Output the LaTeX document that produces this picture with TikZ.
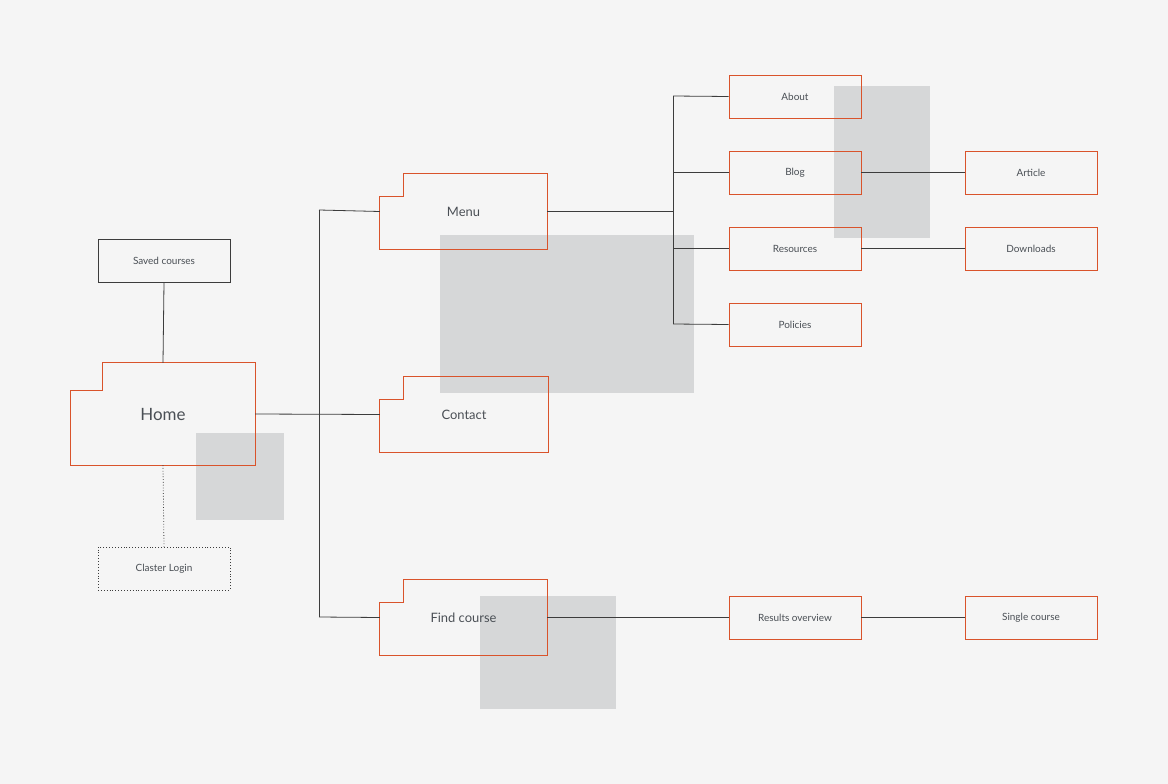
\documentclass[tikz,border=0pt]{standalone}
\usepackage{fontspec}
\setmainfont{Lato}
\begin{document}
\begin{tikzpicture}[x=1bp,y=-1bp,
  line/.style={draw=linec,line width=0.8bp},
  box/.style={rectangle,draw=orng,line width=0.9bp,minimum width=132bp,minimum height=43bp,inner sep=0pt,font=\fontsize{10}{12}\selectfont,text=txt},
  fold/.style={rectangle,inner sep=0pt,text=txt},
  grey/.style={fill=greyc}]
\definecolor{bg}{HTML}{F5F5F5}
\definecolor{greyc}{HTML}{D6D7D8}
\definecolor{orng}{HTML}{D9532B}
\definecolor{linec}{HTML}{3C3C3C}
\definecolor{txt}{HTML}{4A4F55}
\fill[bg] (0,0) rectangle (1168,784);
\useasboundingbox (0,0) rectangle (1168,784);
% grey overlays
\fill[grey] (440,235) rectangle (694,393);
\fill[grey] (834,86) rectangle (930,238);
\fill[grey] (196,433) rectangle (284,520);
\fill[grey] (480,596) rectangle (616,709);
% folder nodes
\node[fold,minimum width=184bp,minimum height=102bp,font=\fontsize{17}{20}\selectfont] (home) at (163,414) {Home};
\node[fold,minimum width=167bp,minimum height=75bp,font=\fontsize{13}{16}\selectfont] (menu) at (463.5,211.5) {Menu};
\node[fold,minimum width=168bp,minimum height=75bp,font=\fontsize{13}{16}\selectfont] (contact) at (464,414.5) {Contact};
\node[fold,minimum width=167bp,minimum height=75bp,font=\fontsize{13}{16}\selectfont] (find) at (463.5,617.5) {Find course};
\foreach \n/\nx/\ny in {home/102/390, menu/403/196, contact/403/399, find/403/602}{
  \draw[draw=orng,line width=0.9bp] (\n.south west) |- (\nx,\ny) |- (\n.north east) |- (\n.south west) -- cycle;
}
% small boxes
\node[box] (about) at (795,96.5) {About};
\node[box] (blog) at (795,172.5) {Blog};
\node[box] (res) at (795,248.5) {Resources};
\node[box] (pol) at (795,324.5) {Policies};
\node[box] (art) at (1031,172.5) {Article};
\node[box] (down) at (1031,248.5) {Downloads};
\node[box] (resov) at (795,617.5) {Results overview};
\node[box] (single) at (1031,617.5) {Single course};
\node[box,draw=linec] (saved) at (164,260.5) {Saved courses};
\node[box,draw=linec,dotted,line width=0.8bp] (login) at (164,568.5) {Claster Login};
% connectors
\coordinate (t1) at (319,210);
\coordinate (t2) at (319,617);
\coordinate (b1) at (673,96);
\coordinate (b2) at (673,324);
\draw[line] (home.east) -- (contact.west);
\draw[line] (t1) -- (t2);
\draw[line] (t1) -- (menu.west);
\draw[line] (t2) -- (find.west);
\draw[line] (menu.east) -- (menu.east -| b1);
\draw[line] (b1) -- (b2);
\draw[line] (b1) -- (about.west);
\draw[line] (blog.west -| b1) -- (blog.west);
\draw[line] (res.west -| b1) -- (res.west);
\draw[line] (b2) -- (pol.west);
\draw[line] (blog.east) -- (art.west);
\draw[line] (res.east) -- (down.west);
\draw[line] (find.east) -- (resov.west);
\draw[line] (resov.east) -- (single.west);
\draw[line] (saved.south) -- (home.north);
\draw[line,dotted] (home.south) -- (login.north);
\end{tikzpicture}
\end{document}
